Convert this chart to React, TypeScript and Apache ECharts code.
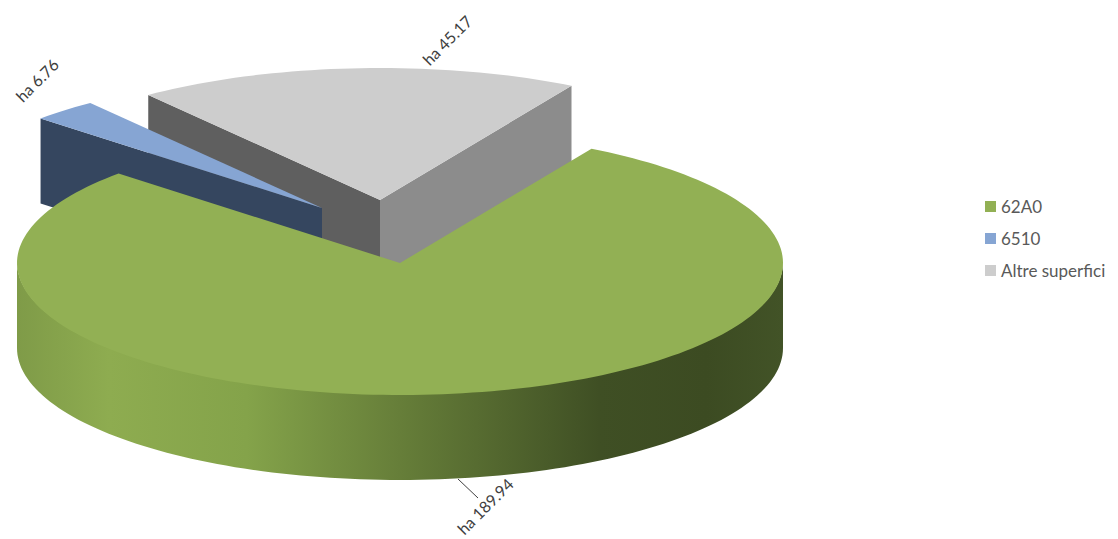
import React, { useEffect, useRef } from "react";
import * as echarts from "echarts";

const categories = ["62A0", "6510", "Altre superfici"];
const values = [189.94, 6.76, 45.17];
const startAngleDeg = 30;

const topColors = ["#92b054", "#86a5d3", "#cdcdcd"];
const startWallColors = ["#55692f", "#35465f", "#5f5f5f"];
const endWallColors = ["#55692f", "#35465f", "#8c8c8c"];

const WIDTH = 1118;
const HEIGHT = 539;
const CX = 400;
const CY = 263;
const RX = 383;
const RY = 132;
const DEPTH = 85;
const explodeX = [0, -78, -20];
const explodeY = [0, -55, -63];
const labelX = [485, 37, 447];
const labelY = [506, 80, 40];
const FONT = "Lato, 'Open Sans', sans-serif";

const total = values.reduce((a, b) => a + b, 0);
const rad = (d: number) => (d * Math.PI) / 180;

function arcPoints(cx: number, cy: number, from: number, to: number) {
  const pts: number[][] = [];
  const n = Math.max(2, Math.ceil(Math.abs(to - from) / 1.5));
  for (let i = 0; i <= n; i++) {
    const a = rad(from + ((to - from) * i) / n);
    pts.push([cx + RX * Math.sin(a), cy - RY * Math.cos(a)]);
  }
  return pts;
}

function wallPoly(cx: number, cy: number, a: number, color: string) {
  const p = arcPoints(cx, cy, a, a)[0];
  return {
    type: "polygon",
    shape: {
      points: [
        [cx, cy],
        p,
        [p[0], p[1] + DEPTH],
        [cx, cy + DEPTH],
      ],
    },
    style: { fill: color },
  };
}

function sliceRenderer(index: number) {
  return (_params: any, api: any) => {
    const value = api.value(0);
    let start = startAngleDeg;
    for (let i = 0; i < index; i++) start += (values[i] / total) * 360;
    const end = start + (value / total) * 360;
    const cx = CX + explodeX[index];
    const cy = CY + explodeY[index];
    const children: any[] = [];

    if (Math.sin(rad(start)) < 0) children.push(wallPoly(cx, cy, start, startWallColors[index]));
    if (Math.sin(rad(end)) > 0) children.push(wallPoly(cx, cy, end, endWallColors[index]));

    const wallFrom = Math.max(start, 90);
    const wallTo = Math.min(end, 270);
    if (wallTo > wallFrom) {
      const upper = arcPoints(cx, cy - 1, wallFrom, wallTo);
      const lower = arcPoints(cx, cy + DEPTH, wallTo, wallFrom);
      children.push({
        type: "polygon",
        shape: { points: upper.concat(lower) },
        style: {
          fill: new echarts.graphic.LinearGradient(0, 0, 1, 0, [
            { offset: 0, color: "#7f9b48" },
            { offset: 0.12, color: "#8eac50" },
            { offset: 0.3, color: "#84a34a" },
            { offset: 0.5, color: "#667e39" },
            { offset: 0.76, color: "#3f4f24" },
            { offset: 0.9, color: "#3c4b22" },
            { offset: 1, color: "#425327" },
          ]),
        },
      });
    }

    children.push({
      type: "polygon",
      shape: { points: [[cx, cy], ...arcPoints(cx, cy, start, end)] },
      style: { fill: topColors[index] },
    });

    if (index === 0) {
      children.push({
        type: "line",
        shape: { x1: 458, y1: 479, x2: 478, y2: 498 },
        style: { stroke: "#404040", lineWidth: 1 },
      });
    }

    children.push({
      type: "text",
      x: labelX[index],
      y: labelY[index],
      rotation: Math.PI / 4,
      style: {
        text: "ha " + value,
        fill: "#404040",
        font: "16px " + FONT,
        align: "center",
        verticalAlign: "middle",
      },
    });

    return { type: "group", children };
  };
}

const zOrder = [3, 2, 1];

export default function App() {
  const ref = useRef<HTMLDivElement>(null);
  useEffect(() => {
    const chart = echarts.init(ref.current!, undefined, { renderer: "svg" });
    chart.setOption({
      animation: false,
      backgroundColor: "#ffffff",
      legend: {
        data: categories,
        orient: "vertical",
        left: 985,
        top: 198,
        padding: 0,
        itemWidth: 11,
        itemHeight: 11,
        itemGap: 15,
        icon: "rect",
        textStyle: { fontFamily: FONT, fontSize: 17, color: "#595959", padding: [0, 0, 0, 0] },
      },
      series: categories.map((name, i) => ({
        type: "custom",
        name,
        coordinateSystem: "none",
        z: zOrder[i],
        itemStyle: { color: topColors[i] },
        data: [[values[i]]],
        renderItem: sliceRenderer(i),
      })),
    });
    return () => chart.dispose();
  }, []);
  return (
    <div
      ref={ref}
      style={{ position: "absolute", left: 0, top: 0, width: WIDTH, height: HEIGHT }}
    />
  );
}
